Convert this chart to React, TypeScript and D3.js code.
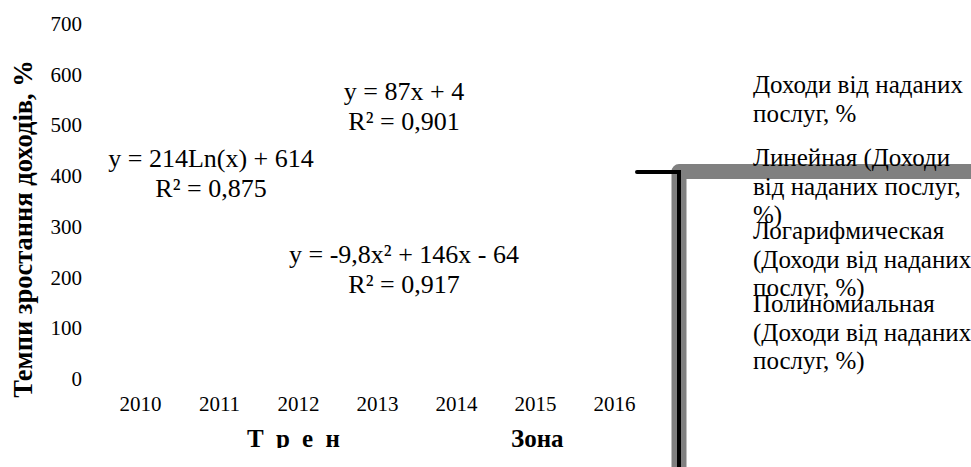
import React from 'react';
import * as d3 from 'd3';

// categories and axis ticks
const years = ['2010', '2011', '2012', '2013', '2014', '2015', '2016'];
const yTicks = [0, 100, 200, 300, 400, 500, 600, 700];

// trend line labels (equation + R²)
const trendEquations = ['y = 87x + 4', 'y = 214Ln(x) + 614', 'y = -9,8x² + 146x - 64'];
const trendR2 = ['R² = 0,901', 'R² = 0,875', 'R² = 0,917'];

const legendItems = [
  ['Доходи від наданих', 'послуг, %'],
  ['Линейная (Доходи', 'від наданих послуг,', '%)'],
  ['Логарифмическая', '(Доходи від наданих', 'послуг, %)'],
  ['Полиномиальная', '(Доходи від наданих', 'послуг, %)'],
];

const W = 971;
const H = 467;
const FONT = '"Liberation Serif", "Times New Roman", serif';

// where excel left the trend labels (label centre x, first baseline)
const labelPos = [
  { x: 404, y: 100 },
  { x: 211, y: 167 },
  { x: 404, y: 263 },
];

const App: React.FC = () => {
  const x = d3.scaleBand<string>().domain(years).range([101, 654]);
  const y = d3.scaleLinear().domain([0, 700]).range([386, 31]);

  return (
    <svg width={W} height={H} style={{ position: 'absolute', left: 0, top: 0, background: '#fff' }} fontFamily={FONT}>
      <defs>
        <clipPath id="plotClip">
          <rect x={0} y={0} width={W} height={448} />
        </clipPath>
      </defs>

      {/* frame leftovers */}
      <path d={`M679,${H + 10}V171.5H${W + 10}`} fill="none" stroke="#808080" strokeWidth={15} strokeLinejoin="round" />
      <path d={`M637,172H679V${H + 10}`} fill="none" stroke="#000" strokeWidth={4} strokeLinecap="round" />

      <g clipPath="url(#plotClip)">
        {/* y ticks */}
        {yTicks.map((t) => (
          <text key={t} x={82} y={y(t)} textAnchor="end" fontSize={21}>
            {t}
          </text>
        ))}

        {/* x ticks */}
        {years.map((yr) => (
          <text key={yr} x={(x(yr) ?? 0) + x.bandwidth() / 2} y={411} textAnchor="middle" fontSize={21}>
            {yr}
          </text>
        ))}

        {/* trend labels */}
        {trendEquations.map((eq, i) => (
          <g key={eq}>
            <text x={labelPos[i].x} y={labelPos[i].y} textAnchor="middle" fontSize={26}>
              {eq}
            </text>
            <text x={labelPos[i].x} y={labelPos[i].y + 30} textAnchor="middle" fontSize={26}>
              {trendR2[i]}
            </text>
          </g>
        ))}

        {/* axis titles */}
        <text
          transform="translate(32,229) rotate(-90)"
          textAnchor="middle"
          fontSize={26.5}
          fontWeight="bold"
        >
          Темпи зростання доходів, %
        </text>
        <text x={247} y={447} fontSize={25} fontWeight="bold" letterSpacing={3}>
          Т р е н
        </text>
        <text x={511} y={447} fontSize={25} fontWeight="bold">
          Зона
        </text>
      </g>

      {/* legend */}
      {legendItems.map((lines, i) => (
        <text key={i} x={753} y={93 + i * 73} fontSize={25}>
          {lines.map((ln, j) => (
            <tspan key={j} x={753} y={93 + i * 73 + j * 28.5}>
              {ln}
            </tspan>
          ))}
        </text>
      ))}
    </svg>
  );
};

export default App;
